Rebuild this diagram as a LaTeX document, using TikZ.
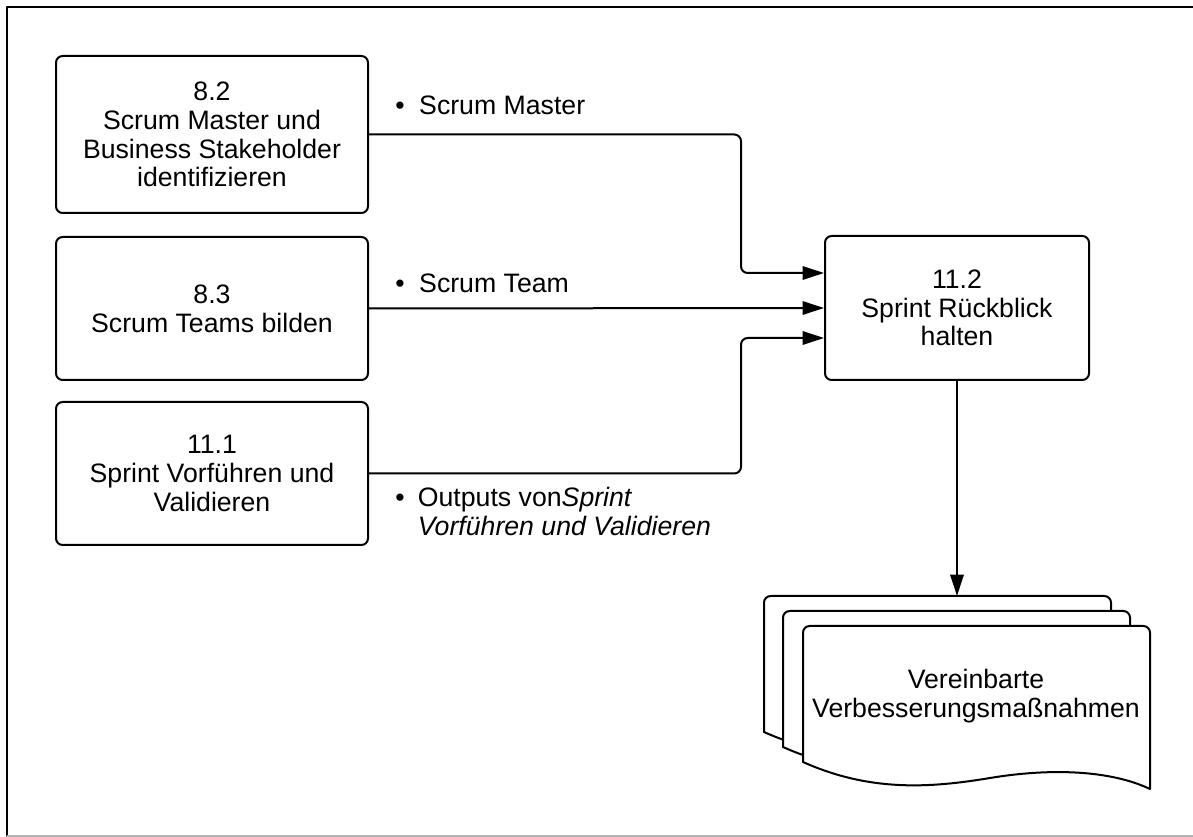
\documentclass[tikz,border=0pt]{standalone}
\usepackage{fontspec}
\setmainfont{Liberation Sans}
\usetikzlibrary{arrows.meta}
\begin{document}
\begin{tikzpicture}[x=0.75pt, y=-0.75pt, line cap=round, line join=round,
  proc/.style={draw, line width=1.5pt, rounded corners=5pt, align=center,
    font=\fontsize{20}{21.5}\selectfont, inner sep=0pt},
  conn/.style={line width=1.5pt, rounded corners=5pt,
    -{Triangle[length=16pt,width=10pt]}},
  lbl/.style={anchor=base west, inner sep=0pt, font=\fontsize{20}{21.5}\selectfont},
  docline/.style={line width=1.5pt, fill=white}]
\useasboundingbox (0,0) rectangle (1193,837);
\clip (0,0) rectangle (1193,837);

% frame
\draw[line width=2.2pt] (1210,7) -- (7,7) -- (7,836);
\draw[gray!60, line width=0.8pt] (7,836) -- (1193,836);

% process boxes
\node[proc, minimum width=234pt, minimum height=117.75pt] (b82) at (212,134.5)
  {8.2\\Scrum Master und\\Business Stakeholder\\identifizieren};
\node[proc, minimum width=234pt, minimum height=107.25pt] (b83) at (212,308.5)
  {8.3\\Scrum Teams bilden};
\node[proc, minimum width=234pt, minimum height=107.25pt] (b111) at (212,473.5)
  {11.1\\Sprint Vorführen und\\Validieren};
\node[proc, minimum width=198pt, minimum height=108pt] (b112) at (957,308)
  {11.2\\Sprint Rückblick\\halten};

% document stack
\foreach \dx/\dy in {-39/-30, -20/-15, 0/0} {
  \begin{scope}[shift={(\dx,\dy)}]
    \draw[docline] (803,762) [rounded corners=5pt] -- (803,626) -- (1150,626)
      -- (1150,700) [sharp corners] -- (1150,789)
      .. controls (1110,770) and (1050,768) .. (990,778)
      .. controls (930,788) and (870,792) .. (803,762) -- cycle;
  \end{scope}
}
\coordinate (docTop) at (957,596);
\node[align=center, inner sep=0pt, font=\fontsize{20}{21.5}\selectfont] (docText) at (976,696)
  {Vereinbarte\\Verbesserungsmaßnahmen};

% connectors
\draw[conn] (b82.east) -- ++(372,0) |- ([yshift=26.25pt]b112.west);
\draw[conn] (b83.east) -- (b112.west);
\draw[conn] (b111.east) -- ++(372,0) |- ([yshift=-22.5pt]b112.west);
\draw[conn] (b112.south) -- (docTop);

% labels
\node[lbl] (lblMaster) at (395,115) {\makebox[18pt][l]{\textbullet}Scrum Master};
\node[lbl] (lblTeam) at (395,293) {\makebox[18pt][l]{\textbullet}Scrum Team};
\node[lbl] (lblOutputs) at (395,507)
  {\begin{tabular}[t]{@{}l@{}l@{}}
   \makebox[17pt][l]{\textbullet} & Outputs von\textit{Sprint}\\
   & \textit{Vorführen und Validieren}
   \end{tabular}};
\end{tikzpicture}
\end{document}
